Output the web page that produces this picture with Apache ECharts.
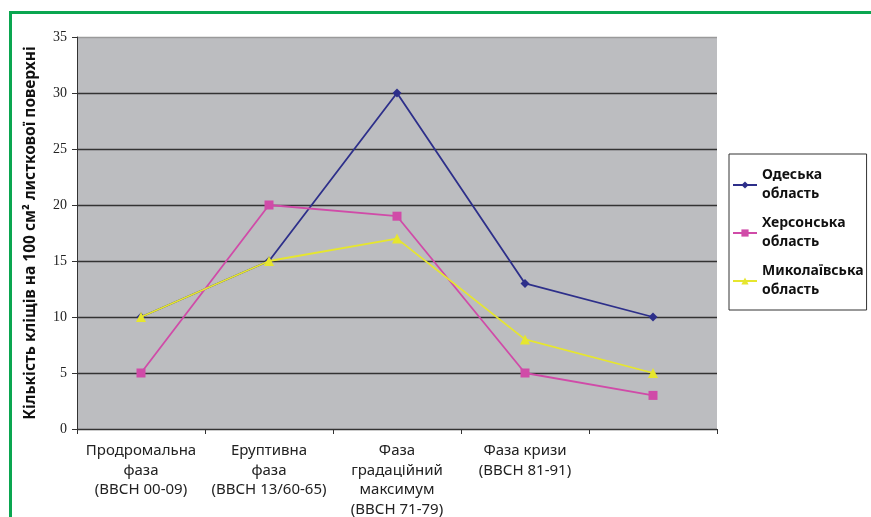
<!DOCTYPE html>
<html>
<head>
<meta charset="utf-8">
<script src="https://cdn.jsdelivr.net/npm/echarts@6/dist/echarts.min.js"></script>
<style>
  html, body { margin: 0; padding: 0; background: #fff; overflow: hidden; }
  #frame {
    position: absolute; left: 9px; top: 11px; width: 900px; height: 600px;
    border-left: 3px solid #0aa650; border-top: 3px solid #0aa650;
  }
  #chart { position: absolute; left: 0; top: 0; width: 871px; height: 517px; }
</style>
</head>
<body>
<div id="frame"></div>
<div id="chart"></div>
<script>
// data
const categories = [
  "Продромальна\nфаза\n(ВВСН 00-09)",
  "Еруптивна\nфаза\n(ВВСН 13/60-65)",
  "Фаза\nградаційний\nмаксимум\n(ВВСН 71-79)",
  "Фаза кризи\n(ВВСН 81-91)",
  ""
];
const odesa = [10, 15, 30, 13, 10];
const kherson = [5, 20, 19, 5, 3];
const mykolaiv = [10, 15, 17, 8, 5];
const yTicks = [0, 5, 10, 15, 20, 25, 30, 35];

const myChart = echarts.init(document.getElementById("chart"));

myChart.setOption({
  animation: false,
  backgroundColor: "transparent",
  grid: {
    left: 77,
    right: 154,
    top: 37,
    bottom: 88,
    outerBoundsMode: "none",
    containLabel: false,
    show: true,
    backgroundColor: "#bcbdc0",
    borderWidth: 0,
  },
  legend: {
    orient: "vertical",
    left: 729,
    top: 154,
    padding: [12, 3, 10, 3],
    itemGap: 10,
    itemWidth: 24,
    itemHeight: 9,
    backgroundColor: "#fff",
    borderColor: "#333",
    borderWidth: 1,
    textStyle: {
      fontFamily: "Noto Sans",
      fontWeight: "bold",
      fontSize: 14,
      lineHeight: 19,
      color: "#111",
    },
    data: ["Одеська\nобласть", "Херсонська\nобласть", "Миколаївська\nобласть"],
  },
  xAxis: {
    type: "category",
    data: categories,
    boundaryGap: true,
    axisLine: { lineStyle: { color: "#333", width: 1 } },
    axisTick: { show: true, length: 5, lineStyle: { color: "#333" } },
    axisLabel: {
      interval: 0,
      margin: 12,
      fontFamily: "Noto Sans",
      fontSize: 15,
      lineHeight: 19.5,
      color: "#222",
    },
  },
  yAxis: {
    type: "value",
    min: 0,
    max: 35,
    interval: 5,
    name: "Кількість кліщів на 100 см² листкової поверхні",
    nameLocation: "middle",
    nameGap: 38,
    nameTextStyle: {
      fontFamily: "Noto Sans",
      fontWeight: "bold",
      fontSize: 15.5,
      color: "#111",
    },
    axisLine: { show: true, lineStyle: { color: "#333", width: 1 } },
    axisTick: { show: true, length: 5, lineStyle: { color: "#333" } },
    axisLabel: {
      formatter: (v) => (yTicks.includes(v) ? String(v) : ""),
      fontFamily: "Liberation Serif",
      fontSize: 14,
      color: "#222",
      margin: 10,
    },
    splitLine: {
      show: true,
      lineStyle: {
        color: ["#333", "#333", "#333", "#333", "#333", "#333", "#333", "#9a9a9a"],
        width: 1.4,
      },
    },
  },
  series: [
    {
      name: "Одеська\nобласть",
      type: "line",
      data: odesa,
      color: "#2d2f8a",
      symbol: "diamond",
      symbolSize: 9,
      lineStyle: { width: 1.8 },
      z: 2,
    },
    {
      name: "Херсонська\nобласть",
      type: "line",
      data: kherson,
      color: "#d04ba8",
      symbol: "rect",
      symbolSize: 9,
      lineStyle: { width: 1.8 },
      z: 3,
    },
    {
      name: "Миколаївська\nобласть",
      type: "line",
      data: mykolaiv,
      color: "#e6e62e",
      symbol: "triangle",
      symbolSize: 10,
      lineStyle: { width: 1.8 },
      z: 4,
    },
  ],
});

window.addEventListener("resize", () => {
  myChart.resize();
});
</script>
</body>
</html>
